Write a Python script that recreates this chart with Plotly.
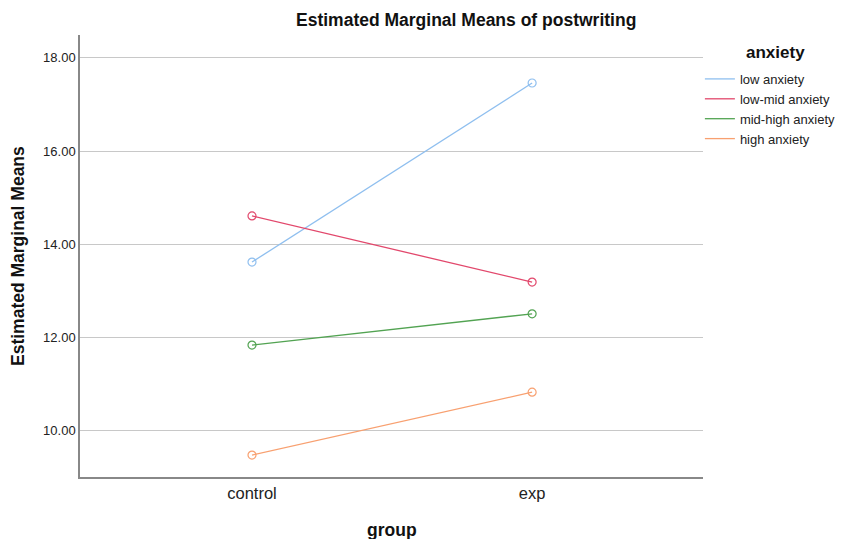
import plotly.graph_objects as go

groups = ["control", "exp"]
series_names = ["low anxiety", "low-mid anxiety", "mid-high anxiety", "high anxiety"]
low_anxiety = [13.62, 17.46]
low_mid_anxiety = [14.61, 13.19]
mid_high_anxiety = [11.84, 12.51]
high_anxiety = [9.48, 10.83]
y_ticks = [10, 12, 14, 16, 18]
y_tick_labels = ["10.00", "12.00", "14.00", "16.00", "18.00"]

colors = ["#8fbfef", "#e2486c", "#52a352", "#f8a070"]
series = [low_anxiety, low_mid_anxiety, mid_high_anxiety, high_anxiety]

FONT = "Liberation Sans, Arial, sans-serif"

fig = go.Figure()
for name, vals, c in zip(series_names, series, colors):
    fig.add_trace(go.Scatter(x=[0, 1], y=vals, mode="lines", name=name,
                             line=dict(color=c, width=1.3)))
for name, vals, c in zip(series_names, series, colors):
    fig.add_trace(go.Scatter(x=[0, 1], y=vals, mode="markers", showlegend=False,
                             marker=dict(symbol="circle-open", size=8, color=c,
                                         line=dict(width=1.2, color=c))))

fig.update_layout(
    width=843, height=539,
    margin=dict(l=80, r=140, t=35, b=62, autoexpand=False),
    plot_bgcolor="white", paper_bgcolor="white",
    font=dict(family=FONT, color="#222"),
    showlegend=True,
    legend=dict(x=0.995, xanchor="left", y=0.9345, yanchor="top",
                font=dict(size=13, color="#222"), itemwidth=30,
                tracegroupgap=0, bgcolor="rgba(0,0,0,0)"),
    xaxis=dict(range=[-0.614, 1.61], tickmode="array", tickvals=[0, 1], ticktext=groups,
               showgrid=False, showline=True, linecolor="#888", linewidth=1.5,
               ticks="", tickfont=dict(size=16.5, color="#222"), zeroline=False),
    yaxis=dict(range=[9.01, 18.49], tickmode="array", tickvals=y_ticks, ticktext=y_tick_labels,
               showgrid=True, gridcolor="#c8c8c8", gridwidth=1.2,
               showline=True, linecolor="#888", linewidth=1.5,
               ticks="", tickfont=dict(size=13, color="#222"), zeroline=False),
    annotations=[
        dict(text="<b>Estimated Marginal Means of postwriting</b>", xref="paper", yref="paper",
             x=(466 - 80) / 623, y=1.0, yshift=15, xanchor="center", yanchor="middle",
             showarrow=False, font=dict(size=17.5, color="#111")),
        dict(text="<b>Estimated Marginal Means</b>", xref="paper", yref="paper",
             x=0, xshift=-62, y=0.5, xanchor="center", yanchor="middle", textangle=-90,
             showarrow=False, font=dict(size=17.5, color="#111")),
        dict(text="<b>group</b>", xref="paper", yref="paper",
             x=0.5, y=0, yshift=-53, xanchor="center", yanchor="middle", showarrow=False,
             font=dict(size=17.5, color="#111")),
        dict(text="<b>anxiety</b>", xref="paper", yref="paper",
             x=(775 - 80) / 623, y=1.0, yshift=-17, xanchor="center", yanchor="middle",
             showarrow=False, font=dict(size=17, color="#111")),
    ],
)

fig.write_html("out.html", config={"displayModeBar": False},
               post_script="document.body.style.margin='0px';")
